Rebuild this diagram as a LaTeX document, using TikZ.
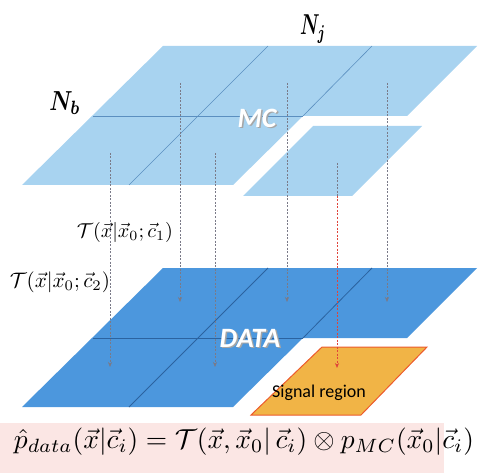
\documentclass[tikz,border=0pt]{standalone}
\usepackage{amsmath}
\usepackage{graphicx}
\usepackage{fontspec}
\newfontfamily\calibri{Carlito}
\usetikzlibrary{arrows.meta}
\definecolor{mcfill}{HTML}{A8D3F0}
\definecolor{mcline}{HTML}{5B8FC0}
\definecolor{datafill}{HTML}{4C97DD}
\definecolor{dataline}{HTML}{2B63A0}
\definecolor{sigfill}{HTML}{F1B446}
\definecolor{sigline}{HTML}{EC5A2C}
\definecolor{boxfill}{HTML}{FBE6E4}
\definecolor{arrgray}{HTML}{7A7A88}
\definecolor{arrred}{HTML}{E0443A}
\begin{document}
\begin{tikzpicture}[x=1pt,y=-1pt,
  mcplane/.style={fill=mcfill,draw=none},
  dataplane/.style={fill=datafill,draw=none},
  mcgrid/.style={draw=mcline,line width=0.6pt},
  datagrid/.style={draw=dataline,line width=0.8pt},
  proj/.style={draw=arrgray,dashed,dash pattern=on 2pt off 1.5pt,line width=0.6pt,-{Stealth[length=5pt,width=4pt]}},
  projred/.style={draw=arrred,dashed,dash pattern=on 2pt off 1.5pt,line width=0.7pt,-{Stealth[length=5pt,width=4pt]}},
  lbl/.style={inner sep=0pt},
  planetext/.style={inner sep=0pt,font=\fontsize{28}{32}\selectfont\calibri\bfseries\itshape}]
\useasboundingbox (0,0) rectangle (479,473);
% formula box
\fill[boxfill] (0,423) rectangle (444,473);
\node[inner sep=0pt] (formula) at (244,442)
  {\resizebox{460pt}{!}{$\hat{p}_{data}(\vec{x}|\vec{c}_i)=\mathcal{T}(\vec{x},\vec{x}_0|\,\vec{c}_i)\otimes p_{MC}(\vec{x}_0|\vec{c}_i)$}};
% DATA plane
\path[dataplane] (163,268) -- (477,268) -- (407,338) -- (303,338) -- (233,407) -- (22,407) -- cycle;
\draw[datagrid] (93,338) -- (303,338);
\draw[datagrid] (268,268) -- (129,407);
\draw[datagrid] (372,268) -- (303,338);
% signal region
\draw[fill=sigfill,draw=sigline,line width=1pt] (322,347) -- (427,347) -- (361,415) -- (251,415) -- cycle;
\node[inner sep=0pt,font=\fontsize{18}{21}\selectfont\calibri] (sig) at (319,393) {Signal region};
\node[planetext,text=gray!70] at (251.5,339.5) {DATA};
\node[planetext,text=white] (data) at (250,338) {DATA};
% MC plane
\path[mcplane] (163,46) -- (477,46) -- (407,116) -- (303,116) -- (233,185) -- (22,185) -- cycle;
\draw[mcgrid] (93,116) -- (303,116);
\draw[mcgrid] (268,46) -- (129,185);
\draw[mcgrid] (372,46) -- (303,116);
\path[mcplane] (313,126) -- (422,126) -- (352,196) -- (243,196) -- cycle;
\node[planetext,text=gray!70] at (258.5,119.5) {MC};
\node[planetext,text=white] (mc) at (257,118) {MC};
% labels
\node[lbl] (nj) at (313,29) {\resizebox*{26pt}{28pt}{$\boldsymbol{N_j}$}};
\node[lbl] (nb) at (65,103) {\resizebox*{31pt}{23pt}{$\boldsymbol{N_b}$}};
\node[lbl] (t1) at (125,232) {\resizebox{96pt}{!}{$\mathcal{T}(\vec{x}|\vec{x}_0;\vec{c}_1)$}};
\node[lbl] (t2) at (60,282) {\resizebox{100pt}{!}{$\mathcal{T}(\vec{x}|\vec{x}_0;\vec{c}_2)$}};
% projection arrows
\coordinate (a1s) at (110,153); \coordinate (a1e) at (110,367);
\coordinate (a2s) at (180,83);  \coordinate (a2e) at (180,302);
\coordinate (a3s) at (215,153); \coordinate (a3e) at (215,367);
\coordinate (a4s) at (287,83);  \coordinate (a4e) at (287,302);
\coordinate (a5s) at (387,83);  \coordinate (a5e) at (387,302);
\coordinate (a6s) at (337,163); \coordinate (a6m) at (337,196); \coordinate (a6e) at (337,368);
\draw[proj] (a1s) -- (a1e);
\draw[proj] (a2s) -- (a2e);
\draw[proj] (a3s) -- (a3e);
\draw[proj] (a4s) -- (a4e);
\draw[proj] (a5s) -- (a5e);
\draw[draw=arrgray,dash pattern=on 2pt off 1.5pt,line width=0.6pt] (a6s) -- (a6m);
\draw[projred] (a6m) -- (a6e);
\end{tikzpicture}
\end{document}
